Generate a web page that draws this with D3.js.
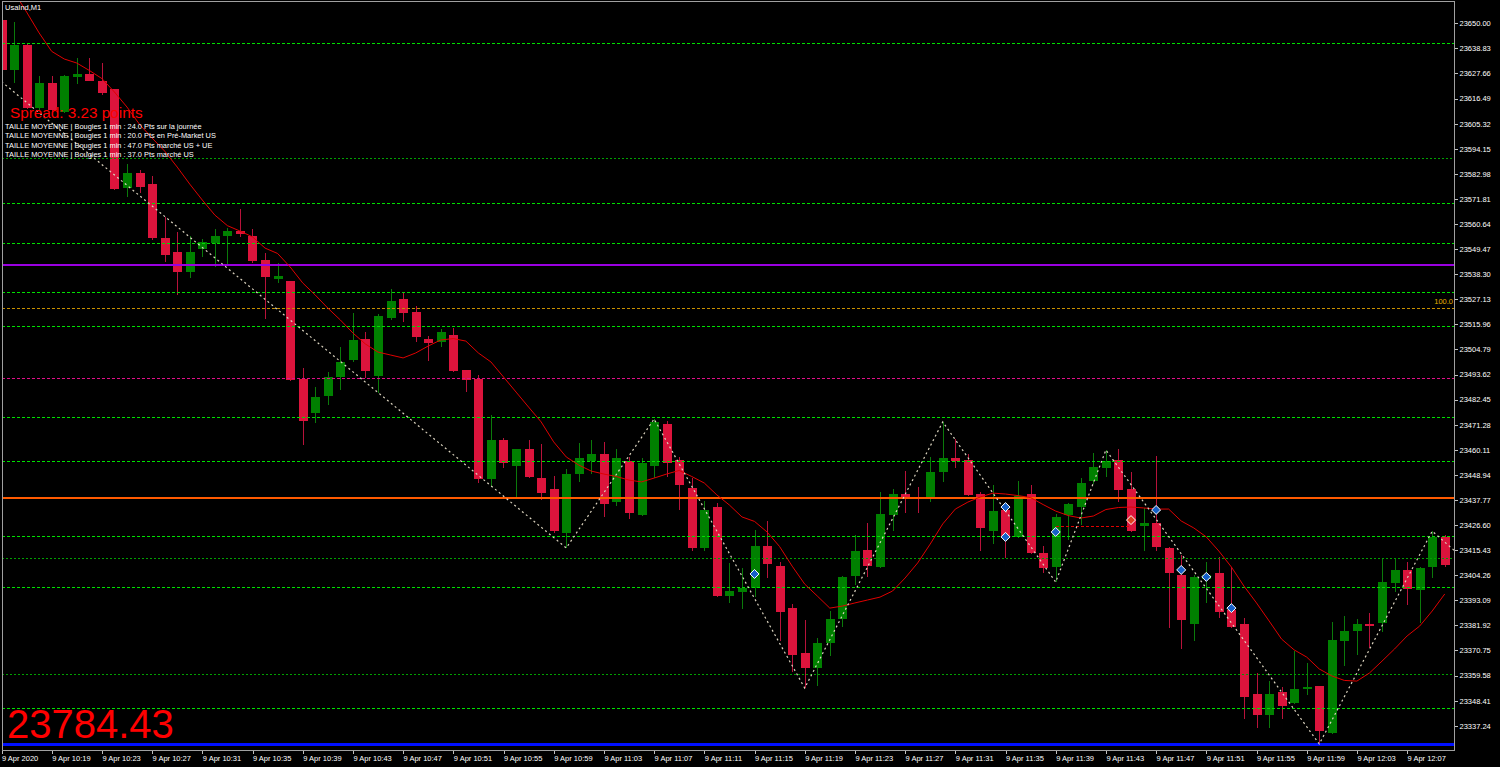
<!DOCTYPE html>
<html><head><meta charset="utf-8">
<script src="https://cdn.jsdelivr.net/npm/d3@7"></script>
<style>
html,body{margin:0;padding:0;background:#000;overflow:hidden}
svg{display:block}
text{font-family:"Liberation Sans",Arial,sans-serif}
</style></head><body>
<svg id="c" width="1500" height="767"></svg>
<script>
// ---------- DATA ----------
const symbolLabel = "UsaInd,M1";
const spreadLabel = "Spread: 3.23 points";
const infoLines = [
  "TAILLE MOYENNE | Bougies 1 min : 24.0 Pts sur la journée",
  "TAILLE MOYENNE | Bougies 1 min : 20.0 Pts en Pré-Market US",
  "TAILLE MOYENNE | Bougies 1 min : 47.0 Pts marché US + UE",
  "TAILLE MOYENNE | Bougies 1 min : 37.0 Pts marché US"
];
const bigPrice = "23784.43";
const fiboLabel = "100.0";

const open = [23651.5,23629.2,23640.3,23612.3,23623.4,23610.5,23626.3,23627.4,23624.3,23620.7,
23576.7,23583.3,23578.5,23554.4,23548.2,23539.3,23549.5,23552.2,23555.3,23557.5,
23555.3,23544.6,23536.1,23535.2,23491.6,23476.5,23484.0,23492.5,23500.1,23509.4,
23493.0,23518.8,23527.2,23521.5,23509.4,23508.1,23511.2,23495.6,23491.6,23447.1,
23464.5,23452.9,23460.4,23447.5,23442.6,23423.0,23449.3,23455.1,23458.2,23436.8,
23455.1,23431.1,23452.9,23471.6,23455.5,23443.1,23416.4,23434.6,23395.0,23396.8,
23398.6,23417.3,23408.3,23389.6,23369.6,23362.9,23374.1,23384.7,23403.9,23415.5,
23407.9,23431.1,23440.4,23439.1,23438.2,23450.2,23456.4,23455.5,23440.4,23423.9,
23433.3,23421.3,23440.4,23414.1,23407.9,23431.1,23434.6,23446.2,23452.0,23455.5,
23442.6,23426.2,23427.5,23416.4,23404.3,23382.5,23402.6,23405.2,23388.8,23382.5,
23351.3,23342.0,23352.2,23347.3,23353.6,23354.9,23334.0,23374.9,23379.4,23382.5,
23383.0,23400.8,23406.6,23397.7,23407.9,23421.3];
const high = [23652.4,23650.6,23640.8,23626.5,23626.5,23627.0,23634.6,23634.6,23632.3,23620.7,
23587.4,23584.7,23582.0,23563.8,23557.1,23555.3,23554.0,23558.4,23558.9,23567.3,
23558.4,23547.7,23543.3,23535.2,23496.5,23488.1,23494.7,23505.9,23521.0,23512.5,
23520.6,23531.7,23530.4,23524.1,23510.8,23513.9,23514.3,23495.6,23493.4,23475.6,
23465.3,23460.4,23464.5,23462.7,23448.4,23451.5,23463.1,23464.5,23463.6,23460.4,
23456.9,23456.4,23473.8,23472.9,23456.9,23447.5,23437.3,23436.4,23409.7,23407.5,
23424.4,23428.4,23410.1,23391.4,23384.3,23376.3,23388.3,23403.9,23422.1,23427.5,
23441.3,23442.6,23450.6,23443.5,23456.9,23472.5,23464.9,23458.2,23441.3,23444.4,
23435.1,23446.2,23444.4,23417.3,23431.5,23436.4,23447.5,23458.7,23460.0,23460.4,
23450.2,23434.2,23457.3,23416.8,23413.2,23404.3,23410.1,23412.4,23407.9,23385.2,
23360.7,23357.1,23354.5,23370.5,23365.2,23354.9,23383.4,23386.1,23384.7,23387.4,
23411.9,23411.9,23410.1,23407.9,23423.9,23422.1];
const low = [23628.8,23623.4,23611.8,23611.4,23610.5,23610.1,23623.0,23624.3,23618.1,23575.8,
23572.7,23574.4,23553.5,23543.7,23529.0,23536.6,23545.9,23541.5,23542.8,23554.8,
23543.3,23518.3,23534.4,23490.8,23462.2,23472.0,23480.0,23486.7,23499.2,23492.1,
23485.4,23517.9,23517.0,23508.1,23499.6,23505.9,23494.7,23485.8,23445.3,23443.5,
23452.0,23438.2,23447.5,23437.7,23423.0,23416.4,23445.8,23449.3,23430.2,23435.1,
23429.3,23430.6,23447.5,23448.0,23433.3,23415.0,23415.0,23394.5,23391.9,23389.2,
23394.5,23403.0,23374.9,23361.1,23354.0,23354.9,23368.3,23381.2,23399.9,23403.5,
23407.5,23423.9,23431.9,23431.9,23436.8,23445.8,23452.0,23439.5,23415.0,23418.1,
23411.9,23420.8,23413.7,23405.2,23401.2,23419.9,23426.6,23444.9,23448.0,23436.8,
23423.5,23415.0,23415.0,23380.7,23371.4,23374.9,23391.9,23385.2,23380.7,23340.2,
23336.2,23336.2,23340.2,23346.9,23350.9,23329.1,23333.5,23363.8,23368.7,23371.8,
23379.0,23396.8,23391.0,23383.0,23403.0,23407.9];
const close = [23629.2,23640.3,23612.3,23623.4,23611.4,23626.5,23627.6,23624.3,23619.0,23576.2,
23583.3,23577.1,23554.4,23546.8,23539.3,23548.2,23552.6,23555.3,23557.5,23556.2,
23544.2,23537.0,23537.5,23491.2,23472.9,23483.6,23492.5,23499.2,23509.0,23495.2,
23519.7,23526.4,23521.0,23510.3,23507.7,23512.5,23495.2,23491.2,23447.1,23464.5,
23454.2,23460.4,23448.0,23440.8,23423.9,23449.3,23456.4,23458.2,23436.0,23456.4,
23431.9,23454.2,23472.5,23454.2,23444.4,23416.4,23433.3,23395.0,23397.2,23398.6,
23417.3,23409.2,23387.9,23368.7,23362.9,23374.1,23384.7,23403.5,23415.0,23408.3,
23431.5,23440.4,23439.1,23438.2,23450.2,23456.4,23455.1,23440.0,23425.3,23432.8,
23421.3,23439.5,23414.1,23407.5,23430.2,23436.0,23445.3,23452.4,23455.1,23442.2,
23423.9,23427.5,23416.8,23405.2,23384.3,23403.5,23404.3,23387.9,23381.2,23350.0,
23342.0,23351.3,23346.0,23353.6,23354.5,23334.9,23375.4,23379.4,23382.5,23381.6,
23401.2,23406.6,23398.1,23407.5,23421.3,23408.8];
// moving average (bar 0 has no visible value)
const maValues = [null,23663.9,23655.0,23645.7,23637.5,23634.1,23632.3,23629.0,23625.4,23619.4,
23612.7,23605.0,23598.9,23593.1,23586.0,23578.4,23571.3,23564.6,23559.9,23557.5,
23554.9,23549.9,23547.5,23541.5,23534.4,23529.0,23523.2,23517.9,23512.1,23507.2,
23503.6,23502.3,23501.0,23503.2,23506.3,23509.0,23509.6,23508.5,23503.2,23499.2,
23492.5,23485.8,23479.1,23472.5,23463.6,23456.9,23453.3,23450.6,23449.3,23448.2,
23446.6,23445.8,23447.5,23449.3,23450.9,23448.2,23445.3,23440.0,23435.5,23430.2,
23428.2,23423.5,23417.0,23408.3,23400.3,23395.0,23389.6,23390.5,23391.9,23393.2,
23394.5,23397.2,23403.0,23409.7,23418.1,23427.1,23433.7,23436.8,23439.1,23440.8,
23440.4,23439.7,23438.8,23435.7,23432.8,23430.8,23429.7,23430.6,23433.5,23434.4,
23434.6,23434.2,23433.7,23433.7,23428.4,23425.3,23421.3,23415.0,23407.9,23399.4,
23391.9,23383.9,23375.8,23371.0,23367.8,23362.5,23359.4,23357.4,23357.1,23360.7,
23366.0,23371.4,23377.2,23381.6,23388.3,23395.9];
// zigzag vertices (bar index, price)
const zzIndex = [0,45,52,64,75,84,88,105,114,116];
const zzPrice = [23624.0,23416.4,23473.8,23354.0,23472.5,23401.2,23460.0,23329.1,23423.9,23414.1];
// signal markers
const mkIndex = [60,80,80,84,90,92,94,96,98];
const mkPrice = [23404.8,23434.6,23421.3,23423.5,23428.8,23433.3,23406.6,23403.5,23389.6];
const mkKind  = ["b","b","b","b","r","b","b","b","b"];
// horizontal levels
const greenLevels = [23641.1,23570.2,23552.0,23530.2,23515.1,23474.6,23455.0,23421.6,23398.8,23345.2];
const darkGreenLevels = [23589.9,23412.0,23360.1];
const purpleLevel = 23542.8;
const fiboLevel = 23523.4;
const magentaLevel = 23491.9;
const orangeLevel = 23439.2;
const blueLevel = 23329.2;
const redSegIndex = [84,90];
const redSegPrice = 23426.0;
// axes
const yTicks = [23650.00,23638.83,23627.66,23616.49,23605.32,23594.15,23582.98,23571.81,23560.64,
23549.47,23538.30,23527.13,23515.96,23504.79,23493.62,23482.45,23471.28,23460.11,23448.94,
23437.77,23426.60,23415.43,23404.26,23393.09,23381.92,23370.75,23359.58,23348.41,23337.24];
const xTickIndex = [0,4,8,12,16,20,24,28,32,36,40,44,48,52,56,60,64,68,72,76,80,84,88,92,96,100,104,108,112];
const xTickLabels = ["9 Apr 2020","9 Apr 10:19","9 Apr 10:23","9 Apr 10:27","9 Apr 10:31","9 Apr 10:35",
"9 Apr 10:39","9 Apr 10:43","9 Apr 10:47","9 Apr 10:51","9 Apr 10:55","9 Apr 10:59","9 Apr 11:03",
"9 Apr 11:07","9 Apr 11:11","9 Apr 11:15","9 Apr 11:19","9 Apr 11:23","9 Apr 11:27","9 Apr 11:31",
"9 Apr 11:35","9 Apr 11:39","9 Apr 11:43","9 Apr 11:47","9 Apr 11:51","9 Apr 11:55","9 Apr 11:59",
"9 Apr 12:03","9 Apr 12:07"];

// ---------- CHART ----------
const svg = d3.select("#c");
svg.append("rect").attr("width",1500).attr("height",767).attr("fill","#000");

const L = 2, R = 1454.5, T = 1.5, B = 750.5;
const x = d3.scaleLinear().domain([0, 115]).range([1.5, 1444.75]);
const y = d3.scaleLinear().domain([23337.24, 23650]).range([725.7, 23.3]);

svg.append("defs").append("clipPath").attr("id","plot")
  .append("rect").attr("x",L+0.5).attr("y",T+0.5).attr("width",R-L-1).attr("height",B-T-1);

const plot = svg.append("g").attr("clip-path","url(#plot)");

// candles
const bars = d3.range(open.length);
const cg = plot.append("g").attr("shape-rendering","crispEdges");
cg.selectAll("line.w").data(bars).join("line")
  .attr("x1", i => Math.round(x(i)) + 0.5).attr("x2", i => Math.round(x(i)) + 0.5)
  .attr("y1", i => y(high[i])).attr("y2", i => y(low[i]))
  .attr("stroke", i => close[i] >= open[i] ? "#0b7a0b" : "#b8123a").attr("stroke-width",1);
cg.selectAll("rect.b").data(bars).join("rect")
  .attr("x", i => Math.round(x(i)) - 4).attr("width", 9)
  .attr("y", i => y(Math.max(open[i], close[i])))
  .attr("height", i => Math.max(2, Math.abs(y(open[i]) - y(close[i]))))
  .attr("fill", i => close[i] >= open[i] ? "#008000" : "#dc143c");

// horizontal levels
const hl = plot.append("g").attr("shape-rendering","crispEdges");
function hline(p, color, dash, w, x1, x2){
  const yy = Math.round(y(p)) + 0.5;
  hl.append("line").attr("x1", x1 ?? L).attr("x2", x2 ?? R).attr("y1", yy).attr("y2", yy)
    .attr("stroke", color).attr("stroke-width", w).attr("stroke-dasharray", dash);
}
greenLevels.forEach(p => hline(p, "#00e000", "3,2", 1));
darkGreenLevels.forEach(p => hline(p, "#00a000", "2,2", 1.6));
hline(purpleLevel, "#9a00e0", null, 2);
hline(fiboLevel, "#c89000", "3,2", 1);
hline(magentaLevel, "#e0108a", "3,2", 1);
hline(orangeLevel, "#ff5a00", null, 2);
hline(blueLevel, "#0010ff", null, 3);
hline(redSegPrice, "#e00000", "3,2", 1, x(redSegIndex[0]), x(redSegIndex[1]));

// moving average
plot.append("path")
  .datum(bars)
  .attr("d", d3.line().defined(i => maValues[i] != null).x(i => x(i)).y(i => y(maValues[i])))
  .attr("fill","none").attr("stroke","#e00000").attr("stroke-width",1);

// zigzag
plot.append("path")
  .datum(d3.range(zzIndex.length))
  .attr("d", d3.line().x(k => x(zzIndex[k])).y(k => y(zzPrice[k])))
  .attr("fill","none").attr("stroke","#ddd5c0").attr("stroke-width",1.2).attr("stroke-dasharray","2,3");

// markers
const mk = plot.append("g");
d3.range(mkIndex.length).forEach(k => {
  const cx = x(mkIndex[k]), cy = y(mkPrice[k]);
  mk.append("path").attr("d", `M${cx},${cy-4.5}L${cx+4.5},${cy}L${cx},${cy+4.5}L${cx-4.5},${cy}Z`)
    .attr("fill", mkKind[k] === "r" ? "#e04020" : "#1560c8").attr("stroke","#ffffff").attr("stroke-width",1);
});

// frame
const fr = svg.append("g").attr("shape-rendering","crispEdges").attr("stroke","#a0a0a0").attr("stroke-width",1);
fr.append("line").attr("x1",L+0.5).attr("x2",L+0.5).attr("y1",T).attr("y2",B);
fr.append("line").attr("x1",L).attr("x2",R).attr("y1",T).attr("y2",T);
fr.append("line").attr("x1",R).attr("x2",R).attr("y1",T).attr("y2",B+0.5);
fr.append("line").attr("x1",L).attr("x2",R).attr("y1",B).attr("y2",B);

// right axis
const gy = svg.append("g").attr("transform",`translate(${R},0)`)
  .call(d3.axisRight(y).tickValues(yTicks).tickFormat(d3.format(".2f")).tickSize(3).tickPadding(2));
gy.select(".domain").remove();
gy.selectAll(".tick line").attr("stroke","#c0c0c0").attr("shape-rendering","crispEdges");
gy.selectAll(".tick text").attr("fill","#ffffff").style("font-size","7.5px").style("font-family","'Liberation Sans',Arial,sans-serif");

// bottom axis
const gx = svg.append("g").attr("transform",`translate(0,${B})`)
  .call(d3.axisBottom(x).tickValues(xTickIndex).tickFormat((d,k) => xTickLabels[k]).tickSize(3).tickPadding(2.5));
gx.select(".domain").remove();
gx.selectAll(".tick line").attr("stroke","#c0c0c0").attr("shape-rendering","crispEdges");
gx.selectAll(".tick text").attr("fill","#ffffff").attr("text-anchor","start").attr("x",0)
  .style("font-size","7.5px").style("font-family","'Liberation Sans',Arial,sans-serif");

// texts
svg.append("text").attr("x",5).attr("y",10).attr("fill","#ffffff").style("font-size","7.5px").text(symbolLabel);
svg.append("text").attr("x",10).attr("y",118).attr("fill","#ff0000").style("font-size","15.3px").text(spreadLabel);
infoLines.forEach((t,k) => svg.append("text").attr("x",5).attr("y",129 + k*9.3)
  .attr("fill","#ffffff").style("font-size","7.4px").text(t));
svg.append("text").attr("x",7).attr("y",738).attr("fill","#ff0000").style("font-size","40px").text(bigPrice);
svg.append("text").attr("x",1453).attr("y",y(fiboLevel)-3.5).attr("text-anchor","end")
  .attr("fill","#e0b000").style("font-size","7.5px").text(fiboLabel);
</script>
</body></html>
